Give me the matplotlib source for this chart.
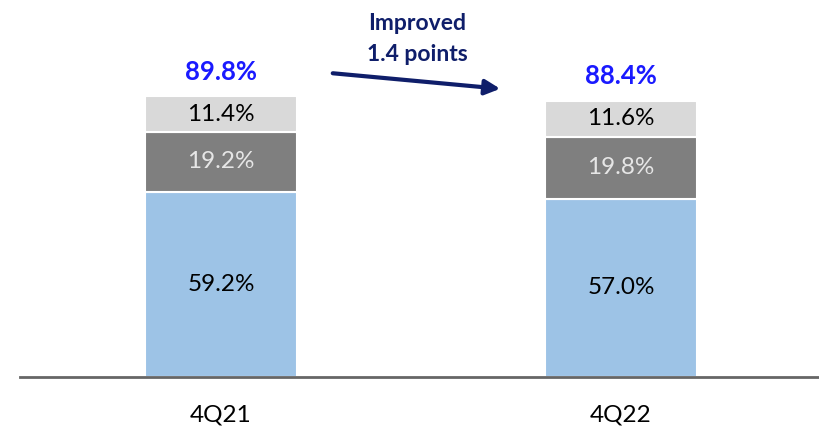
import matplotlib.pyplot as plt

plt.rcParams['font.family'] = ['Lato', 'DejaVu Sans']

quarters = ["4Q21", "4Q22"]
base = [59.2, 57.0]
middle = [19.2, 19.8]
top = [11.4, 11.6]
totals = ["89.8%", "88.4%"]

fig = plt.figure(figsize=(8.2, 4.29), dpi=100)
ax = fig.add_axes([20 / 820, 52 / 429, 800 / 820, 377 / 429])

x = range(len(quarters))
w = 0.38
ax.bar(x, base, w, color="#9DC3E6", edgecolor="white", linewidth=1.5)
ax.bar(x, middle, w, bottom=base, color="#7F7F7F", edgecolor="white", linewidth=1.5)
bot3 = [a + b for a, b in zip(base, middle)]
ax.bar(x, top, w, bottom=bot3, color="#D9D9D9", edgecolor="white", linewidth=1.5)

for i in x:
    ax.text(i, base[i] / 2, f"{base[i]:.1f}%", ha="center", va="center", fontsize=17.5, color="black")
    ax.text(i, base[i] + middle[i] / 2, f"{middle[i]:.1f}%", ha="center", va="center", fontsize=17.5, color="#E6E6E6")
    ax.text(i, bot3[i] + top[i] / 2, f"{top[i]:.1f}%", ha="center", va="center", fontsize=17.5, color="black")
    ax.text(i, bot3[i] + top[i] + 4.0, totals[i], ha="center", va="bottom", fontsize=18.5,
            fontweight="bold", color="#1A1AFF")

ax.set_xlim(-0.5025, 1.4975)
ax.set_ylim(0, 120.6)
ax.set_xticks(list(x))
ax.set_xticklabels(quarters, fontsize=17.5)
ax.tick_params(axis="x", length=0, pad=20)
ax.set_yticks([])
for s in ["top", "left", "right"]:
    ax.spines[s].set_visible(False)
ax.spines["bottom"].set_color("#666666")
ax.spines["bottom"].set_linewidth(2)

navy = "#0F1E6A"
ax.annotate("", xy=(503 / 820, (429 - 89) / 429), xytext=(330 / 820, (429 - 73) / 429),
            xycoords="figure fraction", textcoords="figure fraction",
            arrowprops=dict(arrowstyle="-|>,head_length=0.9,head_width=0.45", color=navy, lw=3))
fig.text(417 / 820, (429 - 39) / 429, "Improved\n1.4 points", ha="center", va="center",
         fontsize=16.5, fontweight="bold", color=navy, linespacing=1.6)

fig.savefig("out.png", dpi=100)
